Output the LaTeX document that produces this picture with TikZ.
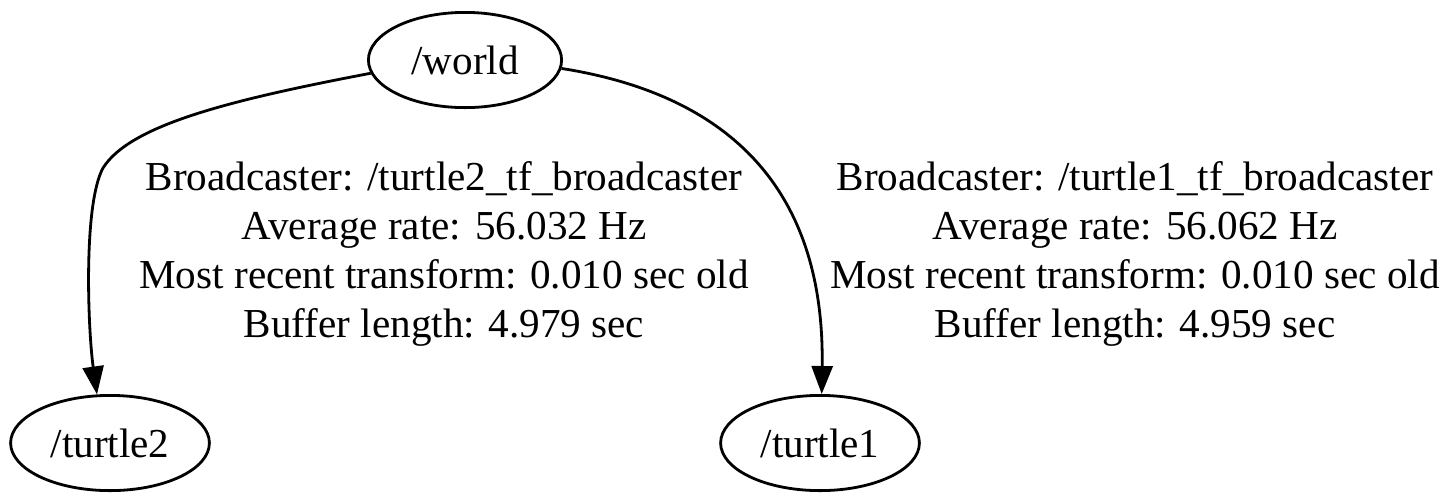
\documentclass[tikz,border=0pt]{standalone}
\usepackage{fontspec}
\setmainfont{Liberation Serif}
\usepackage{tikz}
\usetikzlibrary{arrows.meta,shapes.geometric}
\tikzstyle{nd}=[ellipse,draw=black,line width=1pt,inner sep=0pt,
  minimum height=34pt,font=\fontsize{14.7}{17.6}\selectfont]
\tikzstyle{lbl}=[align=center,inner sep=0pt,font=\fontsize{14.7}{17.6}\selectfont]
\tikzstyle{ed}=[-{Triangle[length=10pt,width=7.5pt]},line width=1pt]

\begin{document}
\begin{tikzpicture}[x=0.35714pt,y=-0.35714pt]
            \useasboundingbox (0,0) rectangle (1451,495);
            \node [style=nd,minimum width=69pt] (0) at (465, 60) {/world};
            \node [style=nd,minimum width=71pt] (1) at (110, 443) {/turtle2};
            \node [style=nd,minimum width=71pt] (2) at (820, 443) {/turtle1};
            \node [style=lbl] (3) at (444, 254) {Broadcaster: /turtle2\_tf\_broadcaster\\Average rate: 56.032 Hz\\Most recent transform: 0.010 sec old\\Buffer length: 4.979 sec};
            \node [style=lbl] (4) at (1135, 254) {Broadcaster: /turtle1\_tf\_broadcaster\\Average rate: 56.062 Hz\\Most recent transform: 0.010 sec old\\Buffer length: 4.959 sec};
            \draw [style=ed] (0.188) .. controls (230, 100) and (130, 125) .. (103, 168)
                .. controls (83, 205) and (88, 330) .. (1.105);
            \draw [style=ed] (0.355) .. controls (730, 95) and (825, 190) .. (2.88);
    \end{tikzpicture}
\end{document}
